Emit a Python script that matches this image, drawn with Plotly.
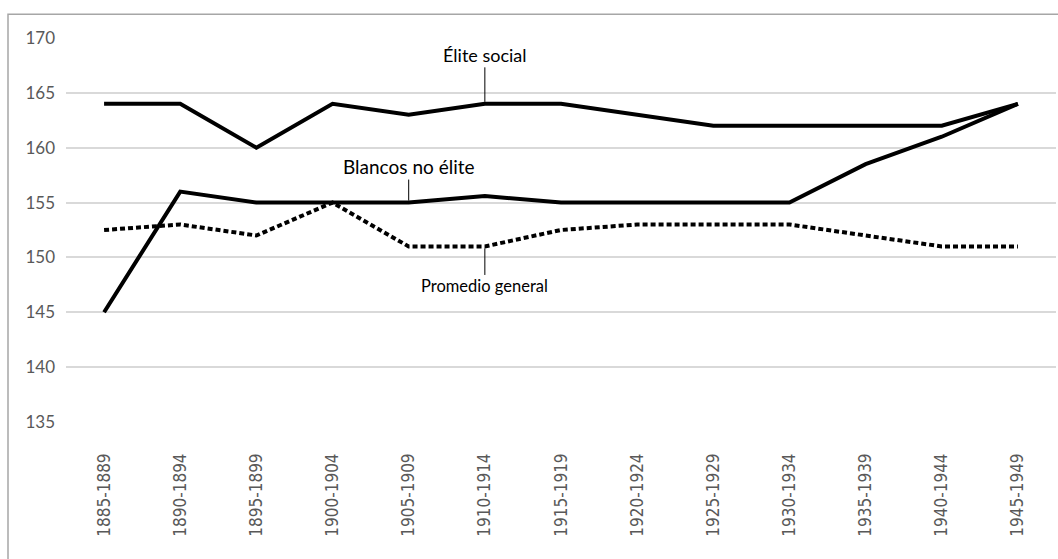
import plotly.graph_objects as go

periods = ["1885-1889", "1890-1894", "1895-1899", "1900-1904", "1905-1909",
           "1910-1914", "1915-1919", "1920-1924", "1925-1929", "1930-1934",
           "1935-1939", "1940-1944", "1945-1949"]
elite_social = [164, 164, 160, 164, 163, 164, 164, 163, 162, 162, 162, 162, 164]
blancos_no_elite = [145, 156, 155, 155, 155, 155.6, 155, 155, 155, 155, 158.5, 161, 164]
promedio_general = [152.5, 153, 152, 155, 151, 151, 152.5, 153, 153, 153, 152, 151, 151]
y_ticks = [135, 140, 145, 150, 155, 160, 165, 170]

fig = go.Figure()
fig.add_trace(go.Scatter(x=periods, y=promedio_general, mode="lines",
                         line=dict(color="black", width=4, dash="5px,3px"),
                         name="Promedio general", showlegend=False))
fig.add_trace(go.Scatter(x=periods, y=blancos_no_elite, mode="lines",
                         line=dict(color="black", width=4),
                         name="Blancos no élite", showlegend=False))
fig.add_trace(go.Scatter(x=periods, y=elite_social, mode="lines",
                         line=dict(color="black", width=4),
                         name="Élite social", showlegend=False))

ann_font = dict(family="Lato, Carlito, sans-serif", color="black")
fig.add_annotation(x=periods[5], y=elite_social[5], text="Élite social",
                   showarrow=True, arrowhead=0, arrowwidth=1, arrowcolor="black",
                   ax=0, ay=-49, standoff=2, font=dict(size=18, **ann_font))
fig.add_annotation(x=periods[4], y=blancos_no_elite[4], text="Blancos no élite",
                   showarrow=True, arrowhead=0, arrowwidth=1, arrowcolor="black",
                   ax=0, ay=-36, standoff=2, font=dict(size=19, **ann_font))
fig.add_annotation(x=periods[5], y=promedio_general[5], text="Promedio general",
                   showarrow=True, arrowhead=0, arrowwidth=1, arrowcolor="black",
                   ax=0, ay=40, standoff=2, font=dict(size=16.5, **ann_font))

# outer chart border (extends past the right/bottom of the picture)
fig.add_shape(type="rect", xref="paper", yref="paper",
              x0=(8 - 66) / 990, x1=(1064 - 66) / 990,
              y0=(421.7 - 566) / 384, y1=(421.7 - 14) / 384,
              line=dict(color="#a6a6a6", width=1.5), layer="below")

fig.update_layout(
    width=1058, height=559,
    margin=dict(l=66, r=2, t=38, b=137),
    paper_bgcolor="white", plot_bgcolor="white",
    showlegend=False,
)
fig.update_xaxes(type="category", range=[-0.5, 12.5], showgrid=False,
                 showline=False, zeroline=False, tickangle=-90,
                 ticklabelstandoff=27,
                 tickfont=dict(family="DejaVu Sans Condensed, DejaVu Sans", size=17, color="#595959"))
fig.update_yaxes(range=[135, 170], tickvals=y_ticks, showgrid=True,
                 gridcolor="#d9d9d9", gridwidth=1.5, zeroline=False, showline=False,
                 ticklabelstandoff=10,
                 tickfont=dict(family="Lato, sans-serif", size=17, color="#595959"))

fig.write_html("out.html")
